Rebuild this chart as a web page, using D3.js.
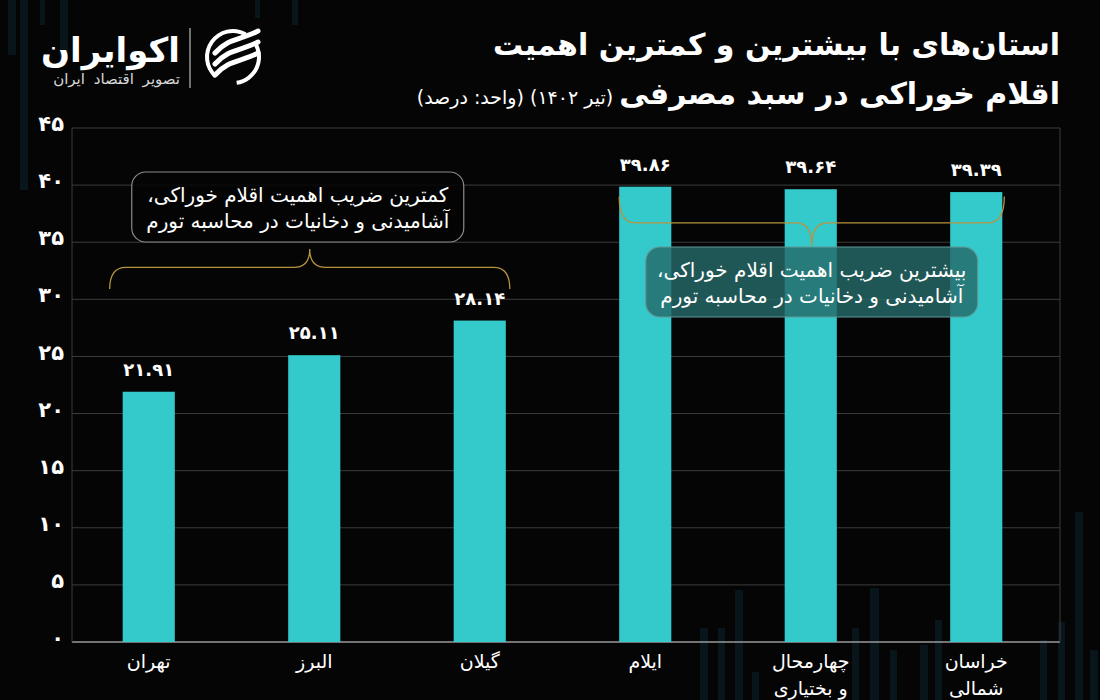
<!DOCTYPE html>
<html><head><meta charset="utf-8">
<script src="https://cdn.jsdelivr.net/npm/d3@7"></script>
<style>
html,body{margin:0;padding:0;background:#050505;}
svg{display:block;}
text{font-family:"DejaVu Sans",sans-serif;}
</style></head>
<body>
<svg id="c" width="1100" height="700"></svg>
<script>
// ---- data ----
const categories = [["تهران"],["البرز"],["گیلان"],["ایلام"],["چهارمحال","و بختیاری"],["خراسان","شمالی"]];
const values = [21.91, 25.11, 28.14, 39.86, 39.64, 39.39];
const yTicks = [0,5,10,15,20,25,30,35,40,45];
const titleLine1 = "استان‌های با بیشترین و کمترین اهمیت";
const titleLine2Bold = "اقلام خوراکی در سبد مصرفی";
const titleLine2Reg = " (تیر ۱۴۰۲) (واحد: درصد)";
const noteLow = ["کمترین ضریب اهمیت اقلام خوراکی،","آشامیدنی و دخانیات در محاسبه تورم"];
const noteHigh = ["بیشترین ضریب اهمیت اقلام خوراکی،","آشامیدنی و دخانیات در محاسبه تورم"];

const fa = s => String(s).replace(/[0-9]/g, d => "۰۱۲۳۴۵۶۷۸۹"[+d]);

const svg = d3.select("#c");
svg.append("rect").attr("width",1100).attr("height",700).attr("fill","#050505");

// decorative faint background columns
const deco = svg.append("g").attr("fill","#0b2029").attr("opacity",0.6);
[[8,0,8,55],[22,0,6,35],[40,0,5,25],[60,0,8,60],[20,0,8,190],[255,0,5,18],[292,0,6,25]].forEach(d=>deco.append("rect").attr("x",d[0]).attr("y",d[1]).attr("width",d[2]).attr("height",d[3]));
[[700,628,8,72],[718,628,7,72],[735,590,8,110],[752,672,7,28],[852,628,7,72],[870,588,9,112],[890,650,7,50],[920,645,8,55],[935,620,7,80],[1040,640,7,60],[1058,622,7,78],[1075,512,8,188],[1090,650,8,50]].forEach(d=>deco.append("rect").attr("x",d[0]).attr("y",d[1]).attr("width",d[2]).attr("height",d[3]));

// ---- scales ----
const x = d3.scaleBand().domain(d3.range(values.length)).range([66,1059]).paddingInner(0.685).paddingOuter(0.3425);
const y = d3.scaleLinear().domain([0,45]).range([642,128]);
const left = 72, right = 1060;

// gridlines
const grid = svg.append("g");
grid.selectAll("line").data(yTicks).join("line")
  .attr("x1",left).attr("x2",right)
  .attr("y1",d=>y(d)).attr("y2",d=>y(d))
  .attr("stroke",d=>d===0?"#9a9a9a":"#3c3c3c").attr("stroke-width",d=>d===0?1.5:1);
svg.append("line").attr("x1",left).attr("x2",left).attr("y1",y(45)).attr("y2",y(0)).attr("stroke","#3c3c3c");
svg.append("line").attr("x1",right).attr("x2",right).attr("y1",y(45)).attr("y2",y(0)).attr("stroke","#3c3c3c");

// y axis labels
svg.append("g").selectAll("text").data(yTicks).join("text")
  .attr("x",64).attr("y",d=>y(d)).attr("dy","0.15em")
  .attr("text-anchor","end").attr("fill","#fff")
  .attr("font-size",21).attr("font-weight","bold")
  .text(d=>fa(d));

// bars
svg.append("g").selectAll("rect").data(values).join("rect")
  .attr("x",(d,i)=>x(i)).attr("width",x.bandwidth())
  .attr("y",d=>y(d)).attr("height",d=>y(0)-y(d))
  .attr("fill","#34cacb");

// value labels
svg.append("g").selectAll("text").data(values).join("text")
  .attr("x",(d,i)=>x(i)+x.bandwidth()/2).attr("y",d=>y(d)-16)
  .attr("text-anchor","middle").attr("fill","#fff")
  .attr("font-size",18).attr("font-weight","bold")
  .text(d=>fa(d.toFixed(2)));

// x labels
const xl = svg.append("g");
categories.forEach((lines,i)=>{
  lines.forEach((t,j)=>{
    xl.append("text").attr("x",x(i)+x.bandwidth()/2).attr("y",668+j*27)
      .attr("text-anchor","middle").attr("fill","#fff").attr("font-size",19)
      .attr("direction","rtl").text(t);
  });
});

// brackets
const gold = "#b8933f";
function bracket(x0,x1,yh,yEnd,yTip,r){
  const xm=(x0+x1)/2;
  return `M${x0},${yEnd} Q${x0},${yh} ${x0+r},${yh} L${xm-r},${yh} Q${xm},${yh} ${xm},${yTip} Q${xm},${yh} ${xm+r},${yh} L${x1-r},${yh} Q${x1},${yh} ${x1},${yEnd}`;
}
const lowX0 = x(0)-13, lowX1 = x(2)+x.bandwidth()+4;
svg.append("path").attr("d",bracket(lowX0,lowX1,y(32.8),y(30.9),y(34.4),16))
  .attr("fill","none").attr("stroke",gold).attr("stroke-width",1.3);
const hiX0 = x(3), hiX1 = x(5)+x.bandwidth()+2;
svg.append("path").attr("d",bracket(hiX0,hiX1,y(36.7),y(39),y(34.7),16))
  .attr("fill","none").attr("stroke",gold).attr("stroke-width",1.3);

// note boxes
function note(cx,top,w,h,lines,fill,stroke){
  const g=svg.append("g");
  g.append("rect").attr("x",cx-w/2).attr("y",top).attr("width",w).attr("height",h).attr("rx",14)
    .attr("fill",fill).attr("stroke",stroke).attr("stroke-width",1.2);
  lines.forEach((t,i)=>g.append("text").attr("x",cx).attr("y",top+30+i*26)
    .attr("text-anchor","middle").attr("direction","rtl").attr("fill","#fff").attr("font-size",20).text(t));
}
note((lowX0+lowX1)/2-12,172,332,70,noteLow,"rgba(5,5,5,0.85)","#8a8a8a");
note((hiX0+hiX1)/2,247,332,70,noteHigh,"rgba(38,105,105,0.82)","#5f9a9a");

// title
svg.append("text").attr("x",1060).attr("y",55).attr("text-anchor","start").attr("direction","rtl")
  .attr("fill","#fff").attr("font-size",30).attr("font-weight","bold").text(titleLine1);
const t2 = svg.append("text").attr("x",1060).attr("y",104).attr("text-anchor","start").attr("direction","rtl").attr("fill","#fff");
t2.append("tspan").attr("font-size",30).attr("font-weight","bold").text(titleLine2Bold);
t2.append("tspan").attr("font-size",19).attr("font-weight","normal").text(titleLine2Reg);

// logo
const lg = svg.append("g");
lg.append("text").attr("x",180).attr("y",62).attr("text-anchor","start").attr("fill","#fff")
  .attr("font-size",34).attr("font-weight","bold").attr("direction","rtl").text("اکوایران");
lg.append("text").attr("x",180).attr("y",84).attr("text-anchor","start").attr("fill","#d8d8d8")
  .attr("font-size",15).attr("direction","rtl").attr("word-spacing",4).text("تصویر اقتصاد ایران");
lg.append("line").attr("x1",190).attr("x2",190).attr("y1",28).attr("y2",88).attr("stroke","#bbb").attr("stroke-width",1.2);
const ic = lg.append("g").attr("transform","translate(233,57)");
ic.append("path").attr("d",d3.arc()({innerRadius:24,outerRadius:28,startAngle:-2.4,endAngle:0.5})).attr("fill","#fff");
ic.append("path").attr("d",d3.arc()({innerRadius:24,outerRadius:28,startAngle:1.0,endAngle:3.0})).attr("fill","#fff");
[-11,0,11].forEach(o=>ic.append("path")
  .attr("d",`M${-18},${o+7} C${-5},${o-8} ${8},${o-6} ${25},${o-15}`)
  .attr("fill","none").attr("stroke","#fff").attr("stroke-width",5).attr("stroke-linecap","round"));
</script>
</body></html>
